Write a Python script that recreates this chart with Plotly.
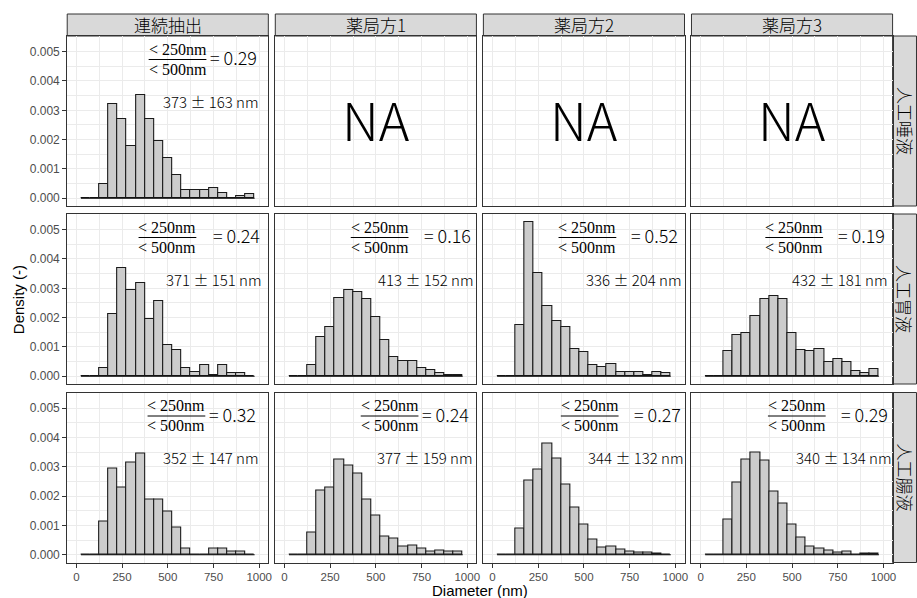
import plotly.graph_objects as go

# ---------------- data ----------------
bin_centers = [50, 100, 150, 200, 250, 300, 350, 400, 450, 500,
               550, 600, 650, 700, 750, 800, 850, 900, 950]
bin_width = 50

col_labels = ["連続抽出", "薬局方1", "薬局方2", "薬局方3"]
row_labels = ["人工唾液", "人工胃液", "人工腸液"]

saliva_continuous = [0, 0, 0.00048, 0.00322, 0.00269, 0.00179, 0.00351, 0.00269, 0.00197, 0.00139,
                     0.00079, 0.00028, 0.00028, 0.00028, 0.00036, 0.00018, 0, 0.00008, 0.00014]
gastric_continuous = [0, 0, 0.00028, 0.00213, 0.00369, 0.00293, 0.00319, 0.00195, 0.00255, 0.00108,
                      0.00089, 0.00028, 0.00016, 0.00038, 0.00006, 0.00038, 0.00011, 0.00011, 0]
gastric_jp1 = [0, 0, 0.00038, 0.00133, 0.00169, 0.00267, 0.00295, 0.00288, 0.00262, 0.00202,
               0.00124, 0.00067, 0.00052, 0.00051, 0.00028, 0.00023, 0.00012, 0.00003, 0.00006]
gastric_jp2 = [0, 0, 0.00176, 0.00527, 0.00351, 0.00238, 0.00187, 0.00167, 0.00094, 0.00084,
               0.00037, 0.00030, 0.00042, 0.00015, 0.00015, 0.00015, 0.00006, 0.00016, 0.00011]
gastric_jp3 = [0, 0, 0.00086, 0.00141, 0.00149, 0.00205, 0.00263, 0.00275, 0.00265, 0.00149,
               0.00089, 0.00086, 0.00094, 0.00049, 0.00058, 0.00049, 0.00018, 0.00012, 0.00025]
intestinal_continuous = [0, 0, 0.00115, 0.00293, 0.00231, 0.00313, 0.00345, 0.00188, 0.00188, 0.00147,
                         0.00093, 0.00021, 0, 0, 0.00021, 0.00021, 0.00010, 0.00010, 0]
intestinal_jp1 = [0, 0, 0.00075, 0.00219, 0.00230, 0.00325, 0.00306, 0.00276, 0.00190, 0.00135,
                  0.00062, 0.00056, 0.00029, 0.00033, 0.00021, 0.00010, 0.00015, 0.00010, 0.00012]
intestinal_jp2 = [0, 0, 0.00089, 0.00254, 0.00292, 0.00378, 0.00327, 0.00239, 0.00161, 0.00103,
                  0.00052, 0.00025, 0.00028, 0.00017, 0.00011, 0.00009, 0.00008, 0.00004, 0]
intestinal_jp3 = [0, 0, 0.00119, 0.00246, 0.00326, 0.00348, 0.00321, 0.00216, 0.00176, 0.00102,
                  0.00060, 0.00029, 0.00021, 0.00015, 0.00008, 0.00010, 0.00002, 0.00004, 0.00004]

# ratio (<250nm / <500nm), mean, sd per panel
ratio_values = {(0, 0): 0.29, (1, 0): 0.24, (1, 1): 0.16, (1, 2): 0.52, (1, 3): 0.19,
                (2, 0): 0.32, (2, 1): 0.24, (2, 2): 0.27, (2, 3): 0.29}
mean_values = {(0, 0): 373, (1, 0): 371, (1, 1): 413, (1, 2): 336, (1, 3): 432,
               (2, 0): 352, (2, 1): 377, (2, 2): 344, (2, 3): 340}
sd_values = {(0, 0): 163, (1, 0): 151, (1, 1): 152, (1, 2): 204, (1, 3): 181,
             (2, 0): 147, (2, 1): 159, (2, 2): 132, (2, 3): 134}

densities = {(0, 0): saliva_continuous,
             (1, 0): gastric_continuous, (1, 1): gastric_jp1, (1, 2): gastric_jp2, (1, 3): gastric_jp3,
             (2, 0): intestinal_continuous, (2, 1): intestinal_jp1, (2, 2): intestinal_jp2,
             (2, 3): intestinal_jp3}

x_ticks = [0, 250, 500, 750, 1000]
y_ticks = [0, 0.001, 0.002, 0.003, 0.004, 0.005]

# ---------------- layout geometry (pixels) ----------------
W, H = 917, 598
col_left = [67.5, 276.5, 485.5, 694.5]
panel_w = 202
row_top = [36, 214, 392.5]
panel_h = 170
strip_top = 14

# label placement inside panels: (fraction centre, "=" left edge, stats right edge), px from panel left
label_pos = {(0, 0): (110.8, 141.5, 194.8), (1, 0): (100.7, 144.2, 197.5), (1, 1): (104.8, 147.5, 201.8),
             (1, 2): (104.5, 146.5, 201.5), (1, 3): (103.2, 145.5, 199.8), (2, 0): (109.7, 140.2, 194.8),
             (2, 1): (114.8, 145.2, 200.8), (2, 2): (106.8, 149.2, 203.2), (2, 3): (105.8, 148.2, 203.2)}


def px(x):
    return x / W


def py(y):
    return 1 - y / H


all_vals = [v for d in densities.values() for v in d]
ymax = max(all_vals)
y_range = [-0.05 * ymax, 1.05 * ymax]
x_lo = bin_centers[0] - bin_width / 2
x_hi = bin_centers[-1] + bin_width / 2
x_range = [0 - 0.05 * 1000, 1000 + 0.05 * 1000]

GRID = "#EBEBEB"
BORDER = "#333333"
XTICKFONT = dict(family="Liberation Sans, Arial", size=11.5, color="#4D4D4D")
YTICKFONT = dict(family="Liberation Sans, Arial", size=12, color="#4D4D4D")
JP = "Noto Sans CJK JP"

fig = go.Figure()
layout = dict(width=W, height=H, margin=dict(l=0, r=0, t=0, b=0),
              paper_bgcolor="white", plot_bgcolor="white", showlegend=False)
shapes = []
annotations = []

for r in range(3):
    for c in range(4):
        k = r * 4 + c + 1
        xa = "x" if k == 1 else f"x{k}"
        ya = "y" if k == 1 else f"y{k}"
        xkey = "xaxis" if k == 1 else f"xaxis{k}"
        ykey = "yaxis" if k == 1 else f"yaxis{k}"
        x0 = col_left[c]
        y0 = row_top[r]
        layout[xkey] = dict(
            domain=[px(x0), px(x0 + panel_w)], anchor=ya, range=x_range,
            tickvals=x_ticks, showticklabels=(r == 2), ticks="outside" if r == 2 else "",
            ticklen=4, tickwidth=1, tickcolor=BORDER, tickfont=XTICKFONT,
            showgrid=True, gridcolor=GRID, gridwidth=1.2,
            minor=dict(showgrid=True, gridcolor=GRID, gridwidth=0.6, tickvals=[125, 375, 625, 875]),
            showline=True, linecolor=BORDER, linewidth=1, mirror=True, zeroline=False,
        )
        layout[ykey] = dict(
            domain=[py(y0 + panel_h), py(y0)], anchor=xa, range=y_range,
            tickvals=y_ticks, ticktext=[f"{v:.3f}" for v in y_ticks],
            showticklabels=(c == 0), ticks="outside" if c == 0 else "",
            ticklen=4, tickwidth=1, tickcolor=BORDER, tickfont=YTICKFONT,
            showgrid=True, gridcolor=GRID, gridwidth=1.2,
            minor=dict(showgrid=True, gridcolor=GRID, gridwidth=0.6,
                       tickvals=[0.0005, 0.0015, 0.0025, 0.0035, 0.0045, 0.0055]),
            showline=True, linecolor=BORDER, linewidth=1, mirror=True, zeroline=False,
        )

        if (r, c) in densities:
            d = densities[(r, c)]
            fig.add_trace(go.Scatter(x=[x_lo, x_hi], y=[0, 0], mode="lines",
                                     line=dict(color="black", width=1.1),
                                     xaxis=xa, yaxis=ya, hoverinfo="skip"))
            fig.add_trace(go.Bar(x=bin_centers, y=d, width=bin_width,
                                 marker=dict(color="#CCCCCC", line=dict(color="#1A1A1A", width=1.1)),
                                 xaxis=xa, yaxis=ya))
            fc, eq_left, st_right = label_pos[(r, c)]
            line_y = y0 + 23.5
            annotations.append(dict(text="&lt; 250nm", x=px(x0 + fc), y=py(line_y - 10.5),
                                    xref="paper", yref="paper", showarrow=False,
                                    xanchor="center", yanchor="middle",
                                    font=dict(family="Liberation Serif", size=16, color="black")))
            annotations.append(dict(text="&lt; 500nm", x=px(x0 + fc), y=py(line_y + 9.5),
                                    xref="paper", yref="paper", showarrow=False,
                                    xanchor="center", yanchor="middle",
                                    font=dict(family="Liberation Serif", size=16, color="black")))
            shapes.append(dict(type="line", xref="paper", yref="paper",
                               x0=px(x0 + fc - 29), x1=px(x0 + fc + 29),
                               y0=py(line_y), y1=py(line_y),
                               line=dict(color="black", width=1)))
            annotations.append(dict(text=f"= {ratio_values[(r, c)]:.2f}", x=px(x0 + eq_left),
                                    y=py(line_y - 2.5), xref="paper", yref="paper", showarrow=False,
                                    xanchor="left", yanchor="middle",
                                    font=dict(family=JP, size=18, color="#000000", weight=300)))
            annotations.append(dict(text=f"{mean_values[(r, c)]} ± {sd_values[(r, c)]} nm",
                                    x=px(x0 + st_right), y=py(y0 + 65), xref="paper", yref="paper",
                                    showarrow=False, xanchor="right", yanchor="middle",
                                    font=dict(family=JP, size=15, color="#000000", weight=300)))
        else:
            fig.add_trace(go.Scatter(x=[None], y=[None], xaxis=xa, yaxis=ya, mode="markers"))
            annotations.append(dict(text="NA", x=px(x0 + panel_w / 2), y=py(y0 + panel_h / 2 - 2),
                                    xref="paper", yref="paper", showarrow=False,
                                    xanchor="center", yanchor="middle",
                                    font=dict(family=JP, size=52, color="black", weight=300)))

# top strips
for c, lab in enumerate(col_labels):
    x0 = col_left[c]
    shapes.append(dict(type="rect", xref="paper", yref="paper",
                       x0=px(x0), x1=px(x0 + panel_w), y0=py(strip_top), y1=py(row_top[0]),
                       fillcolor="#D9D9D9", line=dict(color=BORDER, width=1), layer="below"))
    annotations.append(dict(text=lab, x=px(x0 + panel_w / 2), y=py((strip_top + row_top[0]) / 2),
                            xref="paper", yref="paper", showarrow=False,
                            xanchor="center", yanchor="middle",
                            font=dict(family=JP, size=17, color="#000000", weight=300)))

# right strips
strip_x0 = col_left[3] + panel_w
for r, lab in enumerate(row_labels):
    y0 = row_top[r]
    shapes.append(dict(type="rect", xref="paper", yref="paper",
                       x0=px(strip_x0), x1=px(strip_x0 + 24), y0=py(y0 + panel_h), y1=py(y0),
                       fillcolor="#D9D9D9", line=dict(color=BORDER, width=1), layer="below"))
    annotations.append(dict(text=lab, x=px(strip_x0 + 12.5), y=py(y0 + panel_h / 2),
                            xref="paper", yref="paper", showarrow=False, textangle=90,
                            xanchor="center", yanchor="middle",
                            font=dict(family=JP, size=17, color="#000000", weight=300)))

# axis titles
annotations.append(dict(text="Diameter (nm)", x=px((col_left[0] + col_left[3] + panel_w) / 2),
                        y=py(590), xref="paper", yref="paper", showarrow=False,
                        xanchor="center", yanchor="middle",
                        font=dict(family="Liberation Sans, Arial", size=15, color="black")))
annotations.append(dict(text="Density (-)", x=px(18), y=py((row_top[0] + row_top[2] + panel_h) / 2),
                        xref="paper", yref="paper", showarrow=False, textangle=-90,
                        xanchor="center", yanchor="middle",
                        font=dict(family="Liberation Sans, Arial", size=15, color="black")))

layout["shapes"] = shapes
layout["annotations"] = annotations
layout["bargap"] = 0
fig.update_layout(**layout)
fig.write_html("out.html")
